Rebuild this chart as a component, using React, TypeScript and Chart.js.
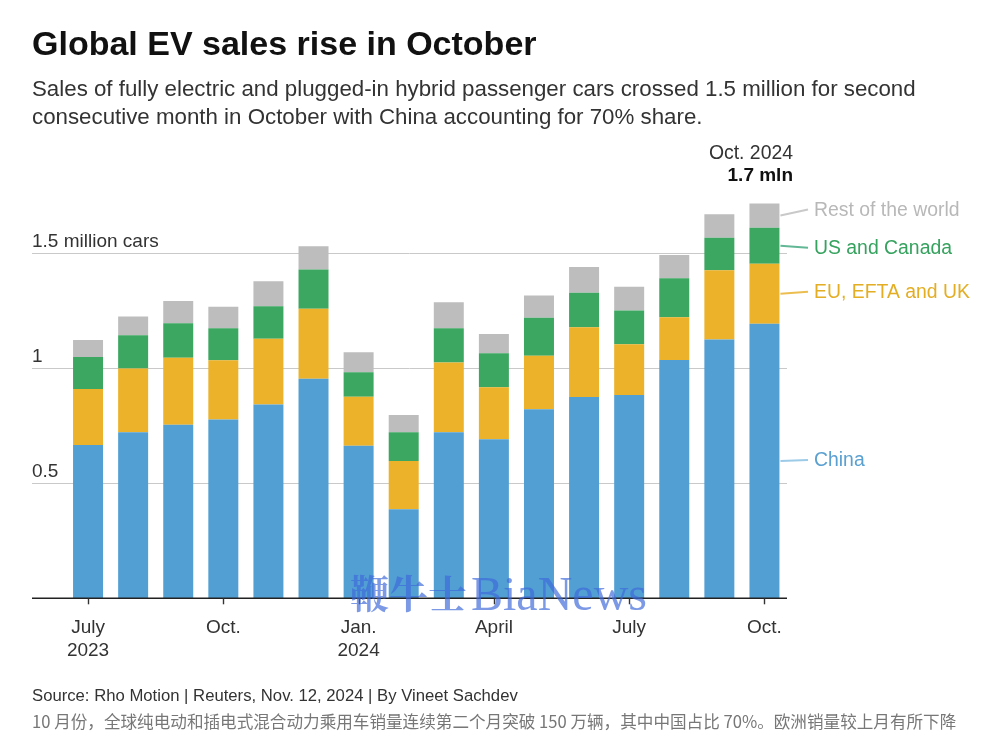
import React, { useEffect, useRef } from "react";
import { Chart, registerables } from "chart.js";

Chart.register(...registerables);

// ---- data ----
const months = [
  "Jul 2023", "Aug 2023", "Sep 2023", "Oct 2023", "Nov 2023", "Dec 2023",
  "Jan 2024", "Feb 2024", "Mar 2024", "Apr 2024", "May 2024", "Jun 2024",
  "Jul 2024", "Aug 2024", "Sep 2024", "Oct 2024",
];
const xTickLabels: (string | string[])[] = [
  ["July", "2023"], "", "", "Oct.", "", "", ["Jan.", "2024"], "", "", "April", "", "", "July", "", "", "Oct.",
];
const china = [0.667, 0.722, 0.755, 0.777, 0.843, 0.955, 0.663, 0.387, 0.722, 0.691, 0.822, 0.875, 0.884, 1.036, 1.125, 1.194];
const euEftaUk = [0.243, 0.277, 0.291, 0.258, 0.285, 0.304, 0.213, 0.210, 0.303, 0.227, 0.233, 0.304, 0.221, 0.186, 0.301, 0.261];
const usCanada = [0.139, 0.145, 0.150, 0.139, 0.142, 0.171, 0.107, 0.125, 0.149, 0.147, 0.165, 0.149, 0.146, 0.170, 0.142, 0.156];
const restOfWorld = [0.074, 0.081, 0.097, 0.094, 0.109, 0.101, 0.087, 0.075, 0.113, 0.084, 0.096, 0.112, 0.104, 0.101, 0.102, 0.106];
const seriesNames = ["China", "EU, EFTA and UK", "US and Canada", "Rest of the world"];
const yGridValues = [0.5, 1, 1.5];
const yTickLabels = ["0.5", "1", "1.5 million cars"];
const annotationTitle = "Oct. 2024";
const annotationValue = "1.7 mln";

// ---- styles ----
const FONT = '"Liberation Sans", Arial, Helvetica, sans-serif';
const barColors = ["#529fd3", "#ebb22a", "#3ca760", "#bdbdbd"];
const labelColors = ["#5aa0d1", "#e3ae24", "#35a25e", "#b8b8b8"];
const lineColors = ["#9ccbe8", "#ecbe50", "#62b896", "#c9c9c9"];
const labelDy = [-1, -2, 2, -6];
const AXIS_LEFT = 32;

const overlayPlugin = {
  id: "overlay",
  beforeDatasetsDraw(chart: any) {
    const { ctx, chartArea } = chart;
    const y = chart.scales.y;
    ctx.save();
    ctx.strokeStyle = "#c9c9c9";
    ctx.lineWidth = 1;
    yGridValues.forEach((v) => {
      const py = Math.round(y.getPixelForValue(v)) + 0.5;
      ctx.beginPath();
      ctx.moveTo(AXIS_LEFT, py);
      ctx.lineTo(chartArea.right, py);
      ctx.stroke();
    });
    ctx.fillStyle = "#333";
    ctx.font = `19px ${FONT}`;
    ctx.textAlign = "left";
    ctx.textBaseline = "alphabetic";
    yGridValues.forEach((v, i) => {
      ctx.fillText(yTickLabels[i], AXIS_LEFT, y.getPixelForValue(v) - 6.5);
    });
    ctx.restore();
  },
  afterDatasetsDraw(chart: any) {
    const { ctx, chartArea } = chart;
    const y = chart.scales.y;
    const x = chart.scales.x;
    ctx.save();
    // baseline
    const by = y.getPixelForValue(0);
    ctx.strokeStyle = "#222";
    ctx.lineWidth = 1.6;
    ctx.beginPath();
    ctx.moveTo(AXIS_LEFT, by);
    ctx.lineTo(chartArea.right, by);
    ctx.stroke();
    // tick marks
    ctx.lineWidth = 1.4;
    ctx.strokeStyle = "#333";
    xTickLabels.forEach((l, i) => {
      if (!l || (Array.isArray(l) && !l.length)) return;
      const px = Math.round(x.getPixelForValue(i)) + 0.5;
      ctx.beginPath();
      ctx.moveTo(px, by);
      ctx.lineTo(px, by + 6);
      ctx.stroke();
    });
    // direct labels next to last bar
    const last = months.length - 1;
    const lineEnd = 808;
    for (let d = 0; d < 4; d++) {
      const el: any = chart.getDatasetMeta(d).data[last];
      const mid = (el.y + el.base) / 2;
      const right = el.x + el.width / 2 + 1;
      const ly = mid + labelDy[d];
      ctx.strokeStyle = lineColors[d];
      ctx.lineWidth = 2;
      ctx.beginPath();
      ctx.moveTo(right, mid);
      ctx.lineTo(lineEnd, ly);
      ctx.stroke();
      ctx.fillStyle = labelColors[d];
      ctx.font = `19.4px ${FONT}`;
      ctx.textAlign = "left";
      ctx.textBaseline = "middle";
      ctx.fillText(seriesNames[d], 814, ly + 1);
    }
    // annotation above last bar
    ctx.textAlign = "right";
    ctx.textBaseline = "alphabetic";
    ctx.fillStyle = "#333";
    ctx.font = `19.4px ${FONT}`;
    ctx.fillText(annotationTitle, 793, 159);
    ctx.fillStyle = "#111";
    ctx.font = `bold 19px ${FONT}`;
    ctx.fillText(annotationValue, 793, 181);
    ctx.restore();
  },
  afterDraw(chart: any) {
    const { ctx } = chart;
    ctx.save();
    ctx.fillStyle = "rgba(62, 104, 218, 0.68)";
    ctx.textAlign = "left";
    ctx.textBaseline = "alphabetic";
    ctx.font = `bold 39px "Noto Serif CJK SC", "Noto Sans CJK SC", serif`;
    ctx.fillText("鞭牛士", 350, 608);
    ctx.font = `48px "Liberation Serif", "DejaVu Serif", serif`;
    ctx.fillText("BiaNews", 471, 610);
    ctx.restore();
  },
};

export default function App() {
  const canvasRef = useRef<HTMLCanvasElement | null>(null);

  useEffect(() => {
    if (!canvasRef.current) return;
    const data = [china, euEftaUk, usCanada, restOfWorld];
    const chart = new Chart(canvasRef.current, {
      type: "bar",
      data: {
        labels: months,
        datasets: data.map((vals, i) => ({
          label: seriesNames[i],
          data: vals,
          backgroundColor: barColors[i],
          borderWidth: 0,
          categoryPercentage: 1,
          barPercentage: 0.665,
        })),
      },
      options: {
        responsive: false,
        animation: false,
        devicePixelRatio: 1,
        layout: { padding: { left: 65.5, right: 213, top: 138.3, bottom: 65.7 } },
        plugins: { legend: { display: false }, tooltip: { enabled: false } },
        scales: {
          x: {
            stacked: true,
            offset: true,
            grid: { display: false },
            border: { display: false },
            ticks: {
              autoSkip: false,
              maxRotation: 0,
              minRotation: 0,
              padding: 10.2,
              color: "#333",
              font: { family: FONT, size: 19, lineHeight: 1.2 },
              callback: (_v: any, i: number) => xTickLabels[i],
            },
            afterFit: (scale: any) => {
              scale.height = 80;
            },
          },
          y: {
            stacked: true,
            display: false,
            min: 0,
            max: 2,
          },
        },
      },
      plugins: [overlayPlugin],
    });
    return () => chart.destroy();
  }, []);

  const abs = (s: React.CSSProperties): React.CSSProperties => ({ position: "absolute", margin: 0, whiteSpace: "nowrap", ...s });

  return (
    <div style={{ position: "fixed", left: 0, top: 0, width: 1000, height: 744, background: "#fff", overflow: "hidden", fontFamily: FONT }}>
      <canvas ref={canvasRef} width={1000} height={744} style={{ position: "absolute", left: 0, top: 0, width: 1000, height: 744 }} />
      <div style={abs({ left: 32, top: 23.2, fontSize: 34, lineHeight: "40px", fontWeight: 700, color: "#111" })}>
        Global EV sales rise in October
      </div>
      <div style={abs({ left: 32, top: 75.2, fontSize: 22.3, lineHeight: "28px", color: "#333" })}>
        Sales of fully electric and plugged-in hybrid passenger cars crossed 1.5 million for second
        <br />
        consecutive month in October with China accounting for 70% share.
      </div>
      <div style={abs({ left: 32, top: 686, fontSize: 16.7, lineHeight: "20px", color: "#333" })}>
        Source: Rho Motion | Reuters, Nov. 12, 2024 | By Vineet Sachdev
      </div>
      <div style={abs({ left: 32, top: 709, fontSize: 16.6, lineHeight: "24px", color: "#777", fontFamily: `"Noto Sans CJK SC", ${FONT}` })}>
        10 月份，全球纯电动和插电式混合动力乘用车销量连续第二个月突破 150 万辆，其中中国占比 70%。欧洲销量较上月有所下降
      </div>
    </div>
  );
}
